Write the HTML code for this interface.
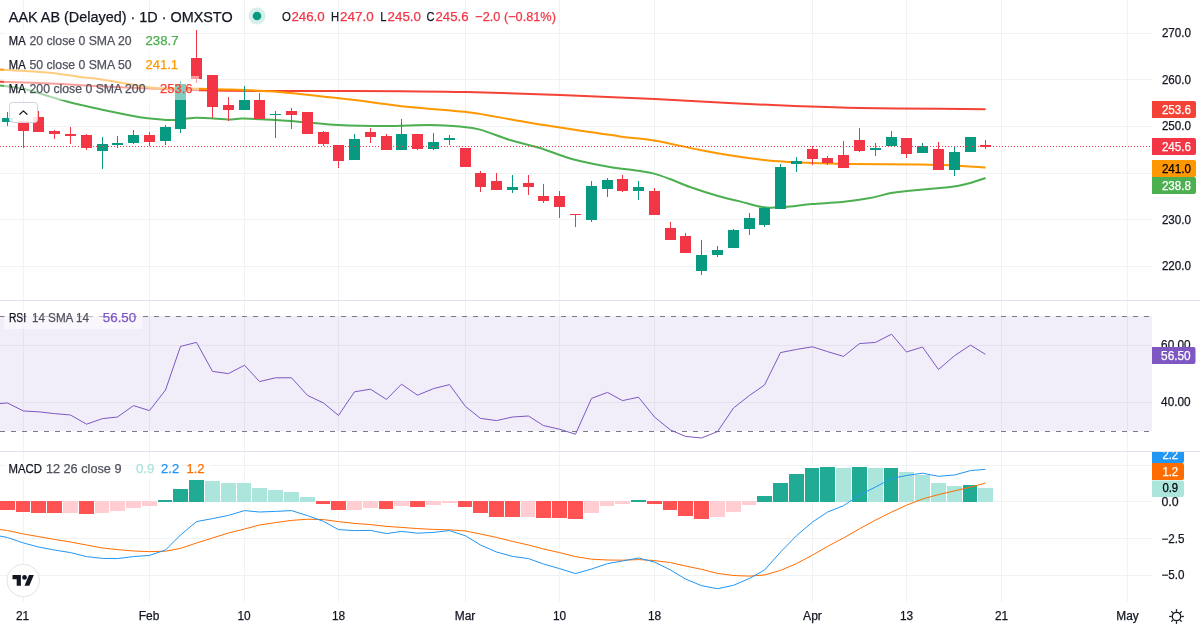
<!DOCTYPE html>
<html><head><meta charset="utf-8"><title>AAK AB chart</title>
<style>html,body{margin:0;padding:0;background:#fff;}body{width:1200px;height:630px;overflow:hidden;position:relative;font-family:"Liberation Sans",sans-serif;}svg{position:absolute;left:0;top:0;display:block;will-change:transform}text{font-family:"Liberation Sans",sans-serif;}</style>
</head><body>
<svg width="1200" height="630" viewBox="0 0 1200 630">
<rect x="0" y="0" width="1200" height="630" fill="#ffffff"/>
<g shape-rendering="crispEdges" fill="#f1f2f3">
<rect x="23" y="0" width="1" height="602"/>
<rect x="149" y="0" width="1" height="602"/>
<rect x="244" y="0" width="1" height="602"/>
<rect x="338" y="0" width="1" height="602"/>
<rect x="465" y="0" width="1" height="602"/>
<rect x="559" y="0" width="1" height="602"/>
<rect x="654" y="0" width="1" height="602"/>
<rect x="812" y="0" width="1" height="602"/>
<rect x="906" y="0" width="1" height="602"/>
<rect x="1001" y="0" width="1" height="602"/>
<rect x="1127" y="0" width="1" height="602"/>
<rect x="0" y="33" width="1152" height="1"/>
<rect x="0" y="79" width="1152" height="1"/>
<rect x="0" y="126" width="1152" height="1"/>
<rect x="0" y="173" width="1152" height="1"/>
<rect x="0" y="219" width="1152" height="1"/>
<rect x="0" y="266" width="1152" height="1"/>
<rect x="0" y="345" width="1152" height="1"/>
<rect x="0" y="402" width="1152" height="1"/>
<rect x="0" y="465" width="1152" height="1"/>
<rect x="0" y="501" width="1152" height="1"/>
<rect x="0" y="538" width="1152" height="1"/>
<rect x="0" y="575" width="1152" height="1"/>
</g>
<rect x="0" y="316" width="1152" height="115" fill="#7E57C2" fill-opacity="0.1" shape-rendering="crispEdges"/>
<g shape-rendering="crispEdges" fill="#787b86">
<rect x="0" y="316" width="5" height="1"/>
<rect x="0" y="431" width="5" height="1"/>
<rect x="11" y="316" width="5" height="1"/>
<rect x="11" y="431" width="5" height="1"/>
<rect x="22" y="316" width="5" height="1"/>
<rect x="22" y="431" width="5" height="1"/>
<rect x="33" y="316" width="5" height="1"/>
<rect x="33" y="431" width="5" height="1"/>
<rect x="44" y="316" width="5" height="1"/>
<rect x="44" y="431" width="5" height="1"/>
<rect x="55" y="316" width="5" height="1"/>
<rect x="55" y="431" width="5" height="1"/>
<rect x="66" y="316" width="5" height="1"/>
<rect x="66" y="431" width="5" height="1"/>
<rect x="77" y="316" width="5" height="1"/>
<rect x="77" y="431" width="5" height="1"/>
<rect x="88" y="316" width="5" height="1"/>
<rect x="88" y="431" width="5" height="1"/>
<rect x="99" y="316" width="5" height="1"/>
<rect x="99" y="431" width="5" height="1"/>
<rect x="110" y="316" width="5" height="1"/>
<rect x="110" y="431" width="5" height="1"/>
<rect x="121" y="316" width="5" height="1"/>
<rect x="121" y="431" width="5" height="1"/>
<rect x="132" y="316" width="5" height="1"/>
<rect x="132" y="431" width="5" height="1"/>
<rect x="143" y="316" width="5" height="1"/>
<rect x="143" y="431" width="5" height="1"/>
<rect x="154" y="316" width="5" height="1"/>
<rect x="154" y="431" width="5" height="1"/>
<rect x="165" y="316" width="5" height="1"/>
<rect x="165" y="431" width="5" height="1"/>
<rect x="176" y="316" width="5" height="1"/>
<rect x="176" y="431" width="5" height="1"/>
<rect x="187" y="316" width="5" height="1"/>
<rect x="187" y="431" width="5" height="1"/>
<rect x="198" y="316" width="5" height="1"/>
<rect x="198" y="431" width="5" height="1"/>
<rect x="209" y="316" width="5" height="1"/>
<rect x="209" y="431" width="5" height="1"/>
<rect x="220" y="316" width="5" height="1"/>
<rect x="220" y="431" width="5" height="1"/>
<rect x="231" y="316" width="5" height="1"/>
<rect x="231" y="431" width="5" height="1"/>
<rect x="242" y="316" width="5" height="1"/>
<rect x="242" y="431" width="5" height="1"/>
<rect x="253" y="316" width="5" height="1"/>
<rect x="253" y="431" width="5" height="1"/>
<rect x="264" y="316" width="5" height="1"/>
<rect x="264" y="431" width="5" height="1"/>
<rect x="275" y="316" width="5" height="1"/>
<rect x="275" y="431" width="5" height="1"/>
<rect x="286" y="316" width="5" height="1"/>
<rect x="286" y="431" width="5" height="1"/>
<rect x="297" y="316" width="5" height="1"/>
<rect x="297" y="431" width="5" height="1"/>
<rect x="308" y="316" width="5" height="1"/>
<rect x="308" y="431" width="5" height="1"/>
<rect x="319" y="316" width="5" height="1"/>
<rect x="319" y="431" width="5" height="1"/>
<rect x="330" y="316" width="5" height="1"/>
<rect x="330" y="431" width="5" height="1"/>
<rect x="341" y="316" width="5" height="1"/>
<rect x="341" y="431" width="5" height="1"/>
<rect x="352" y="316" width="5" height="1"/>
<rect x="352" y="431" width="5" height="1"/>
<rect x="363" y="316" width="5" height="1"/>
<rect x="363" y="431" width="5" height="1"/>
<rect x="374" y="316" width="5" height="1"/>
<rect x="374" y="431" width="5" height="1"/>
<rect x="385" y="316" width="5" height="1"/>
<rect x="385" y="431" width="5" height="1"/>
<rect x="396" y="316" width="5" height="1"/>
<rect x="396" y="431" width="5" height="1"/>
<rect x="407" y="316" width="5" height="1"/>
<rect x="407" y="431" width="5" height="1"/>
<rect x="418" y="316" width="5" height="1"/>
<rect x="418" y="431" width="5" height="1"/>
<rect x="429" y="316" width="5" height="1"/>
<rect x="429" y="431" width="5" height="1"/>
<rect x="440" y="316" width="5" height="1"/>
<rect x="440" y="431" width="5" height="1"/>
<rect x="451" y="316" width="5" height="1"/>
<rect x="451" y="431" width="5" height="1"/>
<rect x="462" y="316" width="5" height="1"/>
<rect x="462" y="431" width="5" height="1"/>
<rect x="473" y="316" width="5" height="1"/>
<rect x="473" y="431" width="5" height="1"/>
<rect x="484" y="316" width="5" height="1"/>
<rect x="484" y="431" width="5" height="1"/>
<rect x="495" y="316" width="5" height="1"/>
<rect x="495" y="431" width="5" height="1"/>
<rect x="506" y="316" width="5" height="1"/>
<rect x="506" y="431" width="5" height="1"/>
<rect x="517" y="316" width="5" height="1"/>
<rect x="517" y="431" width="5" height="1"/>
<rect x="528" y="316" width="5" height="1"/>
<rect x="528" y="431" width="5" height="1"/>
<rect x="539" y="316" width="5" height="1"/>
<rect x="539" y="431" width="5" height="1"/>
<rect x="550" y="316" width="5" height="1"/>
<rect x="550" y="431" width="5" height="1"/>
<rect x="561" y="316" width="5" height="1"/>
<rect x="561" y="431" width="5" height="1"/>
<rect x="572" y="316" width="5" height="1"/>
<rect x="572" y="431" width="5" height="1"/>
<rect x="583" y="316" width="5" height="1"/>
<rect x="583" y="431" width="5" height="1"/>
<rect x="594" y="316" width="5" height="1"/>
<rect x="594" y="431" width="5" height="1"/>
<rect x="605" y="316" width="5" height="1"/>
<rect x="605" y="431" width="5" height="1"/>
<rect x="616" y="316" width="5" height="1"/>
<rect x="616" y="431" width="5" height="1"/>
<rect x="627" y="316" width="5" height="1"/>
<rect x="627" y="431" width="5" height="1"/>
<rect x="638" y="316" width="5" height="1"/>
<rect x="638" y="431" width="5" height="1"/>
<rect x="649" y="316" width="5" height="1"/>
<rect x="649" y="431" width="5" height="1"/>
<rect x="660" y="316" width="5" height="1"/>
<rect x="660" y="431" width="5" height="1"/>
<rect x="671" y="316" width="5" height="1"/>
<rect x="671" y="431" width="5" height="1"/>
<rect x="682" y="316" width="5" height="1"/>
<rect x="682" y="431" width="5" height="1"/>
<rect x="693" y="316" width="5" height="1"/>
<rect x="693" y="431" width="5" height="1"/>
<rect x="704" y="316" width="5" height="1"/>
<rect x="704" y="431" width="5" height="1"/>
<rect x="715" y="316" width="5" height="1"/>
<rect x="715" y="431" width="5" height="1"/>
<rect x="726" y="316" width="5" height="1"/>
<rect x="726" y="431" width="5" height="1"/>
<rect x="737" y="316" width="5" height="1"/>
<rect x="737" y="431" width="5" height="1"/>
<rect x="748" y="316" width="5" height="1"/>
<rect x="748" y="431" width="5" height="1"/>
<rect x="759" y="316" width="5" height="1"/>
<rect x="759" y="431" width="5" height="1"/>
<rect x="770" y="316" width="5" height="1"/>
<rect x="770" y="431" width="5" height="1"/>
<rect x="781" y="316" width="5" height="1"/>
<rect x="781" y="431" width="5" height="1"/>
<rect x="792" y="316" width="5" height="1"/>
<rect x="792" y="431" width="5" height="1"/>
<rect x="803" y="316" width="5" height="1"/>
<rect x="803" y="431" width="5" height="1"/>
<rect x="814" y="316" width="5" height="1"/>
<rect x="814" y="431" width="5" height="1"/>
<rect x="825" y="316" width="5" height="1"/>
<rect x="825" y="431" width="5" height="1"/>
<rect x="836" y="316" width="5" height="1"/>
<rect x="836" y="431" width="5" height="1"/>
<rect x="847" y="316" width="5" height="1"/>
<rect x="847" y="431" width="5" height="1"/>
<rect x="858" y="316" width="5" height="1"/>
<rect x="858" y="431" width="5" height="1"/>
<rect x="869" y="316" width="5" height="1"/>
<rect x="869" y="431" width="5" height="1"/>
<rect x="880" y="316" width="5" height="1"/>
<rect x="880" y="431" width="5" height="1"/>
<rect x="891" y="316" width="5" height="1"/>
<rect x="891" y="431" width="5" height="1"/>
<rect x="902" y="316" width="5" height="1"/>
<rect x="902" y="431" width="5" height="1"/>
<rect x="913" y="316" width="5" height="1"/>
<rect x="913" y="431" width="5" height="1"/>
<rect x="924" y="316" width="5" height="1"/>
<rect x="924" y="431" width="5" height="1"/>
<rect x="935" y="316" width="5" height="1"/>
<rect x="935" y="431" width="5" height="1"/>
<rect x="946" y="316" width="5" height="1"/>
<rect x="946" y="431" width="5" height="1"/>
<rect x="957" y="316" width="5" height="1"/>
<rect x="957" y="431" width="5" height="1"/>
<rect x="968" y="316" width="5" height="1"/>
<rect x="968" y="431" width="5" height="1"/>
<rect x="979" y="316" width="5" height="1"/>
<rect x="979" y="431" width="5" height="1"/>
<rect x="990" y="316" width="5" height="1"/>
<rect x="990" y="431" width="5" height="1"/>
<rect x="1001" y="316" width="5" height="1"/>
<rect x="1001" y="431" width="5" height="1"/>
<rect x="1012" y="316" width="5" height="1"/>
<rect x="1012" y="431" width="5" height="1"/>
<rect x="1023" y="316" width="5" height="1"/>
<rect x="1023" y="431" width="5" height="1"/>
<rect x="1034" y="316" width="5" height="1"/>
<rect x="1034" y="431" width="5" height="1"/>
<rect x="1045" y="316" width="5" height="1"/>
<rect x="1045" y="431" width="5" height="1"/>
<rect x="1056" y="316" width="5" height="1"/>
<rect x="1056" y="431" width="5" height="1"/>
<rect x="1067" y="316" width="5" height="1"/>
<rect x="1067" y="431" width="5" height="1"/>
<rect x="1078" y="316" width="5" height="1"/>
<rect x="1078" y="431" width="5" height="1"/>
<rect x="1089" y="316" width="5" height="1"/>
<rect x="1089" y="431" width="5" height="1"/>
<rect x="1100" y="316" width="5" height="1"/>
<rect x="1100" y="431" width="5" height="1"/>
<rect x="1111" y="316" width="5" height="1"/>
<rect x="1111" y="431" width="5" height="1"/>
<rect x="1122" y="316" width="5" height="1"/>
<rect x="1122" y="431" width="5" height="1"/>
<rect x="1133" y="316" width="5" height="1"/>
<rect x="1133" y="431" width="5" height="1"/>
<rect x="1144" y="316" width="5" height="1"/>
<rect x="1144" y="431" width="5" height="1"/>
</g>
<g shape-rendering="crispEdges" fill="#e0e3eb"><rect x="0" y="300" width="1200" height="1"/><rect x="0" y="451" width="1200" height="1"/></g>
<g shape-rendering="crispEdges">
<rect x="0" y="501" width="15" height="9" fill="#FF5252"/>
<rect x="16" y="501" width="14" height="11" fill="#FF5252"/>
<rect x="31" y="501" width="15" height="12" fill="#FF5252"/>
<rect x="47" y="501" width="15" height="12" fill="#FF5252"/>
<rect x="63" y="501" width="15" height="12" fill="#FFCDD2"/>
<rect x="79" y="501" width="15" height="13" fill="#FF5252"/>
<rect x="95" y="501" width="14" height="12" fill="#FFCDD2"/>
<rect x="110" y="501" width="15" height="10" fill="#FFCDD2"/>
<rect x="126" y="501" width="15" height="7" fill="#FFCDD2"/>
<rect x="142" y="501" width="15" height="5" fill="#FFCDD2"/>
<rect x="158" y="500" width="14" height="2" fill="#22AB94"/>
<rect x="173" y="489" width="15" height="13" fill="#22AB94"/>
<rect x="189" y="480" width="15" height="22" fill="#22AB94"/>
<rect x="205" y="481" width="15" height="21" fill="#ACE5DC"/>
<rect x="221" y="483" width="15" height="19" fill="#ACE5DC"/>
<rect x="237" y="483" width="14" height="19" fill="#ACE5DC"/>
<rect x="252" y="488" width="15" height="14" fill="#ACE5DC"/>
<rect x="268" y="490" width="15" height="12" fill="#ACE5DC"/>
<rect x="284" y="492" width="15" height="10" fill="#ACE5DC"/>
<rect x="300" y="497" width="15" height="5" fill="#ACE5DC"/>
<rect x="316" y="501" width="14" height="3" fill="#FF5252"/>
<rect x="331" y="501" width="15" height="9" fill="#FF5252"/>
<rect x="347" y="501" width="15" height="9" fill="#FFCDD2"/>
<rect x="363" y="501" width="15" height="7" fill="#FFCDD2"/>
<rect x="379" y="501" width="14" height="8" fill="#FF5252"/>
<rect x="394" y="501" width="15" height="5" fill="#FFCDD2"/>
<rect x="410" y="501" width="15" height="6" fill="#FF5252"/>
<rect x="426" y="501" width="15" height="4" fill="#FFCDD2"/>
<rect x="442" y="501" width="15" height="2" fill="#FFCDD2"/>
<rect x="458" y="501" width="14" height="6" fill="#FF5252"/>
<rect x="473" y="501" width="15" height="12" fill="#FF5252"/>
<rect x="489" y="501" width="15" height="16" fill="#FF5252"/>
<rect x="505" y="501" width="15" height="16" fill="#FF5252"/>
<rect x="521" y="501" width="14" height="16" fill="#FFCDD2"/>
<rect x="536" y="501" width="15" height="17" fill="#FF5252"/>
<rect x="552" y="501" width="15" height="17" fill="#FF5252"/>
<rect x="568" y="501" width="15" height="18" fill="#FF5252"/>
<rect x="584" y="501" width="15" height="12" fill="#FFCDD2"/>
<rect x="600" y="501" width="14" height="5" fill="#FFCDD2"/>
<rect x="615" y="501" width="15" height="3" fill="#FFCDD2"/>
<rect x="631" y="500" width="15" height="2" fill="#22AB94"/>
<rect x="647" y="501" width="15" height="3" fill="#FF5252"/>
<rect x="663" y="501" width="14" height="9" fill="#FF5252"/>
<rect x="678" y="501" width="15" height="15" fill="#FF5252"/>
<rect x="694" y="501" width="15" height="18" fill="#FF5252"/>
<rect x="710" y="501" width="15" height="16" fill="#FFCDD2"/>
<rect x="726" y="501" width="15" height="11" fill="#FFCDD2"/>
<rect x="742" y="501" width="14" height="4" fill="#FFCDD2"/>
<rect x="757" y="496" width="15" height="6" fill="#22AB94"/>
<rect x="773" y="483" width="15" height="19" fill="#22AB94"/>
<rect x="789" y="474" width="15" height="28" fill="#22AB94"/>
<rect x="805" y="468" width="14" height="34" fill="#22AB94"/>
<rect x="820" y="467" width="15" height="35" fill="#22AB94"/>
<rect x="836" y="468" width="15" height="34" fill="#ACE5DC"/>
<rect x="852" y="467" width="15" height="35" fill="#22AB94"/>
<rect x="868" y="468" width="15" height="34" fill="#ACE5DC"/>
<rect x="884" y="468" width="14" height="34" fill="#22AB94"/>
<rect x="899" y="472" width="15" height="30" fill="#ACE5DC"/>
<rect x="915" y="475" width="15" height="27" fill="#ACE5DC"/>
<rect x="931" y="483" width="15" height="19" fill="#ACE5DC"/>
<rect x="947" y="486" width="15" height="16" fill="#ACE5DC"/>
<rect x="963" y="485" width="14" height="17" fill="#22AB94"/>
<rect x="978" y="488" width="15" height="14" fill="#ACE5DC"/>
</g>
<polyline points="-8.3,528.5 7.5,530.5 23.5,534.0 38.5,536.6 54.5,539.4 70.5,542.0 86.5,545.0 102.5,548.0 117.5,549.6 133.5,551.0 149.5,551.6 165.5,551.2 180.5,548.4 196.5,543.0 212.5,538.0 228.5,533.0 244.5,529.0 259.5,525.0 275.5,522.6 291.5,520.4 307.5,519.2 323.5,519.6 338.5,521.6 354.5,523.4 370.5,524.6 386.5,526.4 401.5,527.4 417.5,528.6 433.5,529.4 449.5,529.8 465.5,531.0 480.5,534.0 496.5,537.4 512.5,541.4 528.5,545.0 543.5,549.0 559.5,552.6 575.5,556.6 591.5,559.2 607.5,560.0 622.5,560.2 638.5,559.6 654.5,560.6 670.5,562.6 685.5,566.0 701.5,569.3 717.5,573.4 733.5,575.5 749.5,576.1 764.5,575.0 780.5,570.4 796.5,563.6 812.5,555.1 827.5,546.4 843.5,538.0 859.5,528.8 875.5,520.1 891.5,512.1 906.5,505.2 922.5,499.0 938.5,494.6 954.5,490.9 970.5,487.1 985.5,483.1" fill="none" stroke="#FF6D00" stroke-width="1" stroke-linejoin="round" stroke-linecap="butt"/>
<polyline points="-8.3,534.5 7.5,537.5 23.5,543.0 38.5,547.0 54.5,550.0 70.5,552.6 86.5,556.6 102.5,558.4 117.5,558.6 133.5,556.6 149.5,555.4 165.5,550.0 180.5,535.0 196.5,521.6 212.5,518.6 228.5,515.4 244.5,510.6 259.5,512.0 275.5,511.4 291.5,510.6 307.5,515.6 323.5,521.4 338.5,529.6 354.5,530.6 370.5,530.4 386.5,533.6 401.5,531.4 417.5,533.2 433.5,532.4 449.5,530.6 465.5,535.8 480.5,545.0 496.5,552.0 512.5,556.4 528.5,558.6 543.5,564.0 559.5,568.6 575.5,573.6 591.5,569.0 607.5,563.6 622.5,561.0 638.5,558.0 654.5,562.0 670.5,570.0 685.5,579.0 701.5,585.7 717.5,588.7 733.5,585.3 749.5,578.4 764.5,570.0 780.5,552.1 796.5,535.7 812.5,522.0 827.5,512.1 843.5,505.7 859.5,495.0 875.5,487.0 891.5,478.5 906.5,475.5 922.5,473.2 938.5,476.3 954.5,475.0 970.5,470.6 985.5,469.3" fill="none" stroke="#2196F3" stroke-width="1" stroke-linejoin="round" stroke-linecap="butt"/>
<polyline points="-8.3,404.0 7.5,403.0 23.5,411.0 38.5,411.8 54.5,413.6 70.5,415.0 86.5,424.2 102.5,418.6 117.5,417.0 133.5,405.6 149.5,410.6 165.5,390.0 180.5,346.4 196.5,342.4 212.5,371.4 228.5,373.6 244.5,365.2 259.5,381.6 275.5,377.8 291.5,377.8 307.5,395.4 323.5,403.0 338.5,415.4 354.5,391.8 370.5,389.2 386.5,399.4 401.5,384.2 417.5,395.2 433.5,388.6 449.5,384.6 465.5,406.5 480.5,418.4 496.5,420.6 512.5,417.0 528.5,416.0 543.5,425.6 559.5,429.2 575.5,434.2 591.5,398.4 607.5,392.4 622.5,400.6 638.5,397.2 654.5,417.0 670.5,430.0 685.5,436.4 701.5,438.0 717.5,431.6 733.5,408.0 749.5,395.4 764.5,385.0 780.5,352.6 796.5,349.4 812.5,346.8 827.5,351.6 843.5,356.4 859.5,343.6 875.5,342.4 891.5,334.2 906.5,352.0 922.5,347.0 938.5,369.5 954.5,355.7 970.5,345.1 985.5,354.4" fill="none" stroke="#7E57C2" stroke-width="1" stroke-linejoin="round" stroke-linecap="butt"/>
<path d="M0.0,85.4 C4.0,86.0 15.7,87.1 24.0,89.0 C32.3,90.9 42.9,94.5 50.0,96.6 C57.1,98.7 61.2,100.0 66.7,101.5 C72.2,103.0 77.5,104.1 83.0,105.4 C88.5,106.7 94.4,108.1 100.0,109.3 C105.6,110.5 111.2,111.7 116.7,112.8 C122.2,113.9 127.5,115.0 133.0,116.0 C138.6,117.0 144.5,117.9 150.0,118.6 C155.5,119.2 161.7,119.7 166.0,119.9 C170.3,120.1 171.0,120.3 176.0,119.9 C181.0,119.5 187.0,117.8 196.0,117.7 C205.0,117.6 222.0,119.2 230.0,119.4 C238.0,119.6 234.0,118.3 244.0,118.6 C254.0,118.9 274.2,119.9 290.0,121.0 C305.8,122.1 322.6,124.2 338.6,125.0 C354.6,125.8 370.8,126.0 386.0,126.0 C401.2,126.0 417.7,124.9 430.0,125.0 C442.3,125.1 451.7,125.8 460.0,126.6 C468.3,127.4 471.7,127.4 480.0,129.6 C488.3,131.8 500.0,136.9 510.0,140.0 C520.0,143.1 529.7,144.8 540.0,148.0 C550.3,151.2 560.8,155.9 572.0,159.0 C583.2,162.1 595.7,164.4 607.0,166.4 C618.3,168.4 632.2,169.8 640.0,171.0 C647.8,172.2 649.0,172.3 654.0,173.6 C659.0,174.9 664.0,176.8 670.0,179.0 C676.0,181.2 682.0,184.2 690.0,187.0 C698.0,189.8 709.7,193.6 718.0,196.0 C726.3,198.4 732.7,199.6 740.0,201.4 C747.3,203.2 756.3,206.0 762.0,207.0 C767.7,208.0 769.3,207.7 774.0,207.6 C778.7,207.5 783.7,207.2 790.0,206.6 C796.3,206.0 803.3,204.8 812.0,204.0 C820.7,203.2 832.3,203.0 842.0,202.0 C851.7,201.0 861.8,199.5 870.0,198.0 C878.2,196.5 884.8,194.2 891.0,193.0 C897.2,191.8 898.8,191.8 907.0,191.0 C915.2,190.2 932.2,188.7 940.0,188.0 C947.8,187.3 949.0,187.4 954.0,186.6 C959.0,185.8 964.7,184.4 970.0,183.0 C975.3,181.6 983.0,178.8 985.6,178.0" fill="none" stroke="#4CAF50" stroke-width="2" stroke-linecap="butt"/>
<path d="M0.0,81.7 C8.3,82.0 33.3,82.8 50.0,83.5 C66.7,84.2 83.3,85.4 100.0,86.2 C116.7,87.0 133.3,87.9 150.0,88.6 C166.7,89.3 181.0,89.8 200.0,90.2 C219.0,90.6 247.3,90.9 264.0,91.0 C280.7,91.1 277.3,91.0 300.0,91.0 C322.7,91.0 372.2,91.1 400.0,91.3 C427.8,91.5 440.3,91.4 467.0,92.0 C493.7,92.6 528.7,93.8 560.0,95.0 C591.3,96.2 626.2,97.6 655.0,99.0 C683.8,100.4 708.8,102.1 733.0,103.3 C757.2,104.5 778.8,105.4 800.0,106.2 C821.2,107.0 836.7,107.6 860.0,108.0 C883.3,108.4 919.1,108.6 940.0,108.8 C960.9,109.0 978.0,109.1 985.6,109.2" fill="none" stroke="#F44336" stroke-width="2" stroke-linecap="butt"/>
<path d="M0.0,69.5 C8.3,70.0 36.7,71.5 50.0,72.7 C63.3,74.0 71.7,75.9 80.0,77.0 C88.3,78.1 88.3,77.6 100.0,79.3 C111.7,81.0 137.5,85.9 150.0,87.4 C162.5,88.9 166.7,88.2 175.0,88.4 C183.3,88.6 190.8,88.6 200.0,88.8 C209.2,89.0 219.3,89.1 230.0,89.5 C240.7,89.9 254.0,90.4 264.0,91.0 C274.0,91.6 275.7,91.5 290.0,92.9 C304.3,94.3 330.0,97.2 350.0,99.6 C370.0,101.9 390.0,104.9 410.0,107.0 C430.0,109.1 452.7,110.2 470.0,112.4 C487.3,114.6 499.0,117.5 514.0,120.0 C529.0,122.5 542.3,124.9 560.0,127.6 C577.7,130.3 604.3,134.3 620.0,136.4 C635.7,138.5 640.7,138.1 654.0,140.4 C667.3,142.7 687.7,147.6 700.0,150.0 C712.3,152.4 717.3,153.3 728.0,155.0 C738.7,156.7 753.7,158.8 764.0,160.0 C774.3,161.2 782.0,161.5 790.0,162.0 C798.0,162.5 802.0,162.7 812.0,163.0 C822.0,163.3 832.0,163.8 850.0,164.0 C868.0,164.2 903.3,164.2 920.0,164.4 C936.7,164.6 939.1,164.7 950.0,165.2 C960.9,165.7 979.7,167.2 985.6,167.6" fill="none" stroke="#FF9800" stroke-width="2" stroke-linecap="butt"/>
<g shape-rendering="crispEdges">
<rect x="7" y="112" width="1" height="14" fill="#089981"/>
<rect x="2" y="118" width="11" height="4" fill="#089981"/>
<rect x="23" y="120" width="1" height="28" fill="#F23645"/>
<rect x="18" y="121" width="11" height="10" fill="#F23645"/>
<rect x="38" y="111" width="1" height="21" fill="#F23645"/>
<rect x="33" y="117" width="11" height="15" fill="#F23645"/>
<rect x="54" y="130" width="1" height="9" fill="#F23645"/>
<rect x="49" y="131" width="11" height="3" fill="#F23645"/>
<rect x="70" y="127" width="1" height="17" fill="#F23645"/>
<rect x="65" y="134" width="11" height="2" fill="#F23645"/>
<rect x="86" y="134" width="1" height="16" fill="#F23645"/>
<rect x="81" y="135" width="11" height="13" fill="#F23645"/>
<rect x="102" y="137" width="1" height="32" fill="#089981"/>
<rect x="97" y="144" width="11" height="7" fill="#089981"/>
<rect x="117" y="136" width="1" height="12" fill="#089981"/>
<rect x="112" y="143" width="11" height="2" fill="#089981"/>
<rect x="133" y="130" width="1" height="14" fill="#089981"/>
<rect x="128" y="135" width="11" height="8" fill="#089981"/>
<rect x="149" y="132" width="1" height="14" fill="#F23645"/>
<rect x="144" y="135" width="11" height="7" fill="#F23645"/>
<rect x="165" y="125" width="1" height="20" fill="#089981"/>
<rect x="160" y="127" width="11" height="14" fill="#089981"/>
<rect x="180" y="81" width="1" height="52" fill="#089981"/>
<rect x="175" y="84" width="11" height="45" fill="#089981"/>
<rect x="196" y="30" width="1" height="53" fill="#F23645"/>
<rect x="191" y="58" width="11" height="21" fill="#F23645"/>
<rect x="212" y="75" width="1" height="43" fill="#F23645"/>
<rect x="207" y="75" width="11" height="32" fill="#F23645"/>
<rect x="228" y="97" width="1" height="24" fill="#F23645"/>
<rect x="223" y="105" width="11" height="5" fill="#F23645"/>
<rect x="244" y="86" width="1" height="24" fill="#089981"/>
<rect x="239" y="100" width="11" height="10" fill="#089981"/>
<rect x="259" y="93" width="1" height="26" fill="#F23645"/>
<rect x="254" y="100" width="11" height="19" fill="#F23645"/>
<rect x="275" y="111" width="1" height="27" fill="#089981"/>
<rect x="270" y="114" width="11" height="1" fill="#089981"/>
<rect x="291" y="108" width="1" height="21" fill="#F23645"/>
<rect x="286" y="111" width="11" height="4" fill="#F23645"/>
<rect x="307" y="112" width="1" height="22" fill="#F23645"/>
<rect x="302" y="112" width="11" height="22" fill="#F23645"/>
<rect x="323" y="131" width="1" height="15" fill="#F23645"/>
<rect x="318" y="132" width="11" height="12" fill="#F23645"/>
<rect x="338" y="145" width="1" height="23" fill="#F23645"/>
<rect x="333" y="145" width="11" height="16" fill="#F23645"/>
<rect x="354" y="134" width="1" height="26" fill="#089981"/>
<rect x="349" y="139" width="11" height="21" fill="#089981"/>
<rect x="370" y="128" width="1" height="15" fill="#F23645"/>
<rect x="365" y="132" width="11" height="5" fill="#F23645"/>
<rect x="386" y="134" width="1" height="16" fill="#F23645"/>
<rect x="381" y="136" width="11" height="14" fill="#F23645"/>
<rect x="401" y="119" width="1" height="31" fill="#089981"/>
<rect x="396" y="134" width="11" height="16" fill="#089981"/>
<rect x="417" y="134" width="1" height="16" fill="#F23645"/>
<rect x="412" y="134" width="11" height="15" fill="#F23645"/>
<rect x="433" y="133" width="1" height="17" fill="#089981"/>
<rect x="428" y="142" width="11" height="7" fill="#089981"/>
<rect x="449" y="135" width="1" height="10" fill="#089981"/>
<rect x="444" y="138" width="11" height="2" fill="#089981"/>
<rect x="465" y="148" width="1" height="19" fill="#F23645"/>
<rect x="460" y="148" width="11" height="19" fill="#F23645"/>
<rect x="480" y="171" width="1" height="21" fill="#F23645"/>
<rect x="475" y="173" width="11" height="14" fill="#F23645"/>
<rect x="496" y="173" width="1" height="17" fill="#F23645"/>
<rect x="491" y="181" width="11" height="9" fill="#F23645"/>
<rect x="512" y="175" width="1" height="18" fill="#089981"/>
<rect x="507" y="187" width="11" height="3" fill="#089981"/>
<rect x="528" y="175" width="1" height="20" fill="#F23645"/>
<rect x="523" y="183" width="11" height="4" fill="#F23645"/>
<rect x="543" y="184" width="1" height="19" fill="#F23645"/>
<rect x="538" y="196" width="11" height="5" fill="#F23645"/>
<rect x="559" y="191" width="1" height="27" fill="#F23645"/>
<rect x="554" y="196" width="11" height="11" fill="#F23645"/>
<rect x="575" y="214" width="1" height="13" fill="#F23645"/>
<rect x="570" y="214" width="11" height="1" fill="#F23645"/>
<rect x="591" y="181" width="1" height="41" fill="#089981"/>
<rect x="586" y="186" width="11" height="34" fill="#089981"/>
<rect x="607" y="178" width="1" height="19" fill="#089981"/>
<rect x="602" y="180" width="11" height="9" fill="#089981"/>
<rect x="622" y="175" width="1" height="17" fill="#F23645"/>
<rect x="617" y="179" width="11" height="12" fill="#F23645"/>
<rect x="638" y="181" width="1" height="19" fill="#089981"/>
<rect x="633" y="187" width="11" height="4" fill="#089981"/>
<rect x="654" y="188" width="1" height="27" fill="#F23645"/>
<rect x="649" y="191" width="11" height="24" fill="#F23645"/>
<rect x="670" y="222" width="1" height="18" fill="#F23645"/>
<rect x="665" y="228" width="11" height="12" fill="#F23645"/>
<rect x="685" y="233" width="1" height="20" fill="#F23645"/>
<rect x="680" y="236" width="11" height="17" fill="#F23645"/>
<rect x="701" y="240" width="1" height="35" fill="#089981"/>
<rect x="696" y="255" width="11" height="16" fill="#089981"/>
<rect x="717" y="246" width="1" height="11" fill="#089981"/>
<rect x="712" y="250" width="11" height="5" fill="#089981"/>
<rect x="733" y="229" width="1" height="19" fill="#089981"/>
<rect x="728" y="230" width="11" height="18" fill="#089981"/>
<rect x="749" y="213" width="1" height="22" fill="#089981"/>
<rect x="744" y="218" width="11" height="11" fill="#089981"/>
<rect x="764" y="207" width="1" height="20" fill="#089981"/>
<rect x="759" y="208" width="11" height="17" fill="#089981"/>
<rect x="780" y="164" width="1" height="45" fill="#089981"/>
<rect x="775" y="167" width="11" height="42" fill="#089981"/>
<rect x="796" y="157" width="1" height="15" fill="#089981"/>
<rect x="791" y="161" width="11" height="3" fill="#089981"/>
<rect x="812" y="146" width="1" height="19" fill="#F23645"/>
<rect x="807" y="149" width="11" height="10" fill="#F23645"/>
<rect x="827" y="156" width="1" height="9" fill="#F23645"/>
<rect x="822" y="158" width="11" height="5" fill="#F23645"/>
<rect x="843" y="141" width="1" height="27" fill="#F23645"/>
<rect x="838" y="155" width="11" height="13" fill="#F23645"/>
<rect x="859" y="128" width="1" height="24" fill="#F23645"/>
<rect x="854" y="140" width="11" height="11" fill="#F23645"/>
<rect x="875" y="143" width="1" height="13" fill="#089981"/>
<rect x="870" y="148" width="11" height="2" fill="#089981"/>
<rect x="891" y="131" width="1" height="15" fill="#089981"/>
<rect x="886" y="137" width="11" height="9" fill="#089981"/>
<rect x="906" y="138" width="1" height="20" fill="#F23645"/>
<rect x="901" y="138" width="11" height="16" fill="#F23645"/>
<rect x="922" y="143" width="1" height="10" fill="#089981"/>
<rect x="917" y="146" width="11" height="7" fill="#089981"/>
<rect x="938" y="142" width="1" height="28" fill="#F23645"/>
<rect x="933" y="149" width="11" height="21" fill="#F23645"/>
<rect x="954" y="147" width="1" height="29" fill="#089981"/>
<rect x="949" y="152" width="11" height="18" fill="#089981"/>
<rect x="970" y="137" width="1" height="15" fill="#089981"/>
<rect x="965" y="137" width="11" height="15" fill="#089981"/>
<rect x="985" y="140" width="1" height="9" fill="#F23645"/>
<rect x="980" y="145" width="11" height="2" fill="#F23645"/>
</g>
<g shape-rendering="crispEdges" fill="#F23645">
<rect x="0" y="146" width="1" height="1"/>
<rect x="3" y="146" width="1" height="1"/>
<rect x="6" y="146" width="1" height="1"/>
<rect x="9" y="146" width="1" height="1"/>
<rect x="12" y="146" width="1" height="1"/>
<rect x="15" y="146" width="1" height="1"/>
<rect x="18" y="146" width="1" height="1"/>
<rect x="21" y="146" width="1" height="1"/>
<rect x="24" y="146" width="1" height="1"/>
<rect x="27" y="146" width="1" height="1"/>
<rect x="30" y="146" width="1" height="1"/>
<rect x="33" y="146" width="1" height="1"/>
<rect x="36" y="146" width="1" height="1"/>
<rect x="39" y="146" width="1" height="1"/>
<rect x="42" y="146" width="1" height="1"/>
<rect x="45" y="146" width="1" height="1"/>
<rect x="48" y="146" width="1" height="1"/>
<rect x="51" y="146" width="1" height="1"/>
<rect x="54" y="146" width="1" height="1"/>
<rect x="57" y="146" width="1" height="1"/>
<rect x="60" y="146" width="1" height="1"/>
<rect x="63" y="146" width="1" height="1"/>
<rect x="66" y="146" width="1" height="1"/>
<rect x="69" y="146" width="1" height="1"/>
<rect x="72" y="146" width="1" height="1"/>
<rect x="75" y="146" width="1" height="1"/>
<rect x="78" y="146" width="1" height="1"/>
<rect x="81" y="146" width="1" height="1"/>
<rect x="84" y="146" width="1" height="1"/>
<rect x="87" y="146" width="1" height="1"/>
<rect x="90" y="146" width="1" height="1"/>
<rect x="93" y="146" width="1" height="1"/>
<rect x="96" y="146" width="1" height="1"/>
<rect x="99" y="146" width="1" height="1"/>
<rect x="102" y="146" width="1" height="1"/>
<rect x="105" y="146" width="1" height="1"/>
<rect x="108" y="146" width="1" height="1"/>
<rect x="111" y="146" width="1" height="1"/>
<rect x="114" y="146" width="1" height="1"/>
<rect x="117" y="146" width="1" height="1"/>
<rect x="120" y="146" width="1" height="1"/>
<rect x="123" y="146" width="1" height="1"/>
<rect x="126" y="146" width="1" height="1"/>
<rect x="129" y="146" width="1" height="1"/>
<rect x="132" y="146" width="1" height="1"/>
<rect x="135" y="146" width="1" height="1"/>
<rect x="138" y="146" width="1" height="1"/>
<rect x="141" y="146" width="1" height="1"/>
<rect x="144" y="146" width="1" height="1"/>
<rect x="147" y="146" width="1" height="1"/>
<rect x="150" y="146" width="1" height="1"/>
<rect x="153" y="146" width="1" height="1"/>
<rect x="156" y="146" width="1" height="1"/>
<rect x="159" y="146" width="1" height="1"/>
<rect x="162" y="146" width="1" height="1"/>
<rect x="165" y="146" width="1" height="1"/>
<rect x="168" y="146" width="1" height="1"/>
<rect x="171" y="146" width="1" height="1"/>
<rect x="174" y="146" width="1" height="1"/>
<rect x="177" y="146" width="1" height="1"/>
<rect x="180" y="146" width="1" height="1"/>
<rect x="183" y="146" width="1" height="1"/>
<rect x="186" y="146" width="1" height="1"/>
<rect x="189" y="146" width="1" height="1"/>
<rect x="192" y="146" width="1" height="1"/>
<rect x="195" y="146" width="1" height="1"/>
<rect x="198" y="146" width="1" height="1"/>
<rect x="201" y="146" width="1" height="1"/>
<rect x="204" y="146" width="1" height="1"/>
<rect x="207" y="146" width="1" height="1"/>
<rect x="210" y="146" width="1" height="1"/>
<rect x="213" y="146" width="1" height="1"/>
<rect x="216" y="146" width="1" height="1"/>
<rect x="219" y="146" width="1" height="1"/>
<rect x="222" y="146" width="1" height="1"/>
<rect x="225" y="146" width="1" height="1"/>
<rect x="228" y="146" width="1" height="1"/>
<rect x="231" y="146" width="1" height="1"/>
<rect x="234" y="146" width="1" height="1"/>
<rect x="237" y="146" width="1" height="1"/>
<rect x="240" y="146" width="1" height="1"/>
<rect x="243" y="146" width="1" height="1"/>
<rect x="246" y="146" width="1" height="1"/>
<rect x="249" y="146" width="1" height="1"/>
<rect x="252" y="146" width="1" height="1"/>
<rect x="255" y="146" width="1" height="1"/>
<rect x="258" y="146" width="1" height="1"/>
<rect x="261" y="146" width="1" height="1"/>
<rect x="264" y="146" width="1" height="1"/>
<rect x="267" y="146" width="1" height="1"/>
<rect x="270" y="146" width="1" height="1"/>
<rect x="273" y="146" width="1" height="1"/>
<rect x="276" y="146" width="1" height="1"/>
<rect x="279" y="146" width="1" height="1"/>
<rect x="282" y="146" width="1" height="1"/>
<rect x="285" y="146" width="1" height="1"/>
<rect x="288" y="146" width="1" height="1"/>
<rect x="291" y="146" width="1" height="1"/>
<rect x="294" y="146" width="1" height="1"/>
<rect x="297" y="146" width="1" height="1"/>
<rect x="300" y="146" width="1" height="1"/>
<rect x="303" y="146" width="1" height="1"/>
<rect x="306" y="146" width="1" height="1"/>
<rect x="309" y="146" width="1" height="1"/>
<rect x="312" y="146" width="1" height="1"/>
<rect x="315" y="146" width="1" height="1"/>
<rect x="318" y="146" width="1" height="1"/>
<rect x="321" y="146" width="1" height="1"/>
<rect x="324" y="146" width="1" height="1"/>
<rect x="327" y="146" width="1" height="1"/>
<rect x="330" y="146" width="1" height="1"/>
<rect x="333" y="146" width="1" height="1"/>
<rect x="336" y="146" width="1" height="1"/>
<rect x="339" y="146" width="1" height="1"/>
<rect x="342" y="146" width="1" height="1"/>
<rect x="345" y="146" width="1" height="1"/>
<rect x="348" y="146" width="1" height="1"/>
<rect x="351" y="146" width="1" height="1"/>
<rect x="354" y="146" width="1" height="1"/>
<rect x="357" y="146" width="1" height="1"/>
<rect x="360" y="146" width="1" height="1"/>
<rect x="363" y="146" width="1" height="1"/>
<rect x="366" y="146" width="1" height="1"/>
<rect x="369" y="146" width="1" height="1"/>
<rect x="372" y="146" width="1" height="1"/>
<rect x="375" y="146" width="1" height="1"/>
<rect x="378" y="146" width="1" height="1"/>
<rect x="381" y="146" width="1" height="1"/>
<rect x="384" y="146" width="1" height="1"/>
<rect x="387" y="146" width="1" height="1"/>
<rect x="390" y="146" width="1" height="1"/>
<rect x="393" y="146" width="1" height="1"/>
<rect x="396" y="146" width="1" height="1"/>
<rect x="399" y="146" width="1" height="1"/>
<rect x="402" y="146" width="1" height="1"/>
<rect x="405" y="146" width="1" height="1"/>
<rect x="408" y="146" width="1" height="1"/>
<rect x="411" y="146" width="1" height="1"/>
<rect x="414" y="146" width="1" height="1"/>
<rect x="417" y="146" width="1" height="1"/>
<rect x="420" y="146" width="1" height="1"/>
<rect x="423" y="146" width="1" height="1"/>
<rect x="426" y="146" width="1" height="1"/>
<rect x="429" y="146" width="1" height="1"/>
<rect x="432" y="146" width="1" height="1"/>
<rect x="435" y="146" width="1" height="1"/>
<rect x="438" y="146" width="1" height="1"/>
<rect x="441" y="146" width="1" height="1"/>
<rect x="444" y="146" width="1" height="1"/>
<rect x="447" y="146" width="1" height="1"/>
<rect x="450" y="146" width="1" height="1"/>
<rect x="453" y="146" width="1" height="1"/>
<rect x="456" y="146" width="1" height="1"/>
<rect x="459" y="146" width="1" height="1"/>
<rect x="462" y="146" width="1" height="1"/>
<rect x="465" y="146" width="1" height="1"/>
<rect x="468" y="146" width="1" height="1"/>
<rect x="471" y="146" width="1" height="1"/>
<rect x="474" y="146" width="1" height="1"/>
<rect x="477" y="146" width="1" height="1"/>
<rect x="480" y="146" width="1" height="1"/>
<rect x="483" y="146" width="1" height="1"/>
<rect x="486" y="146" width="1" height="1"/>
<rect x="489" y="146" width="1" height="1"/>
<rect x="492" y="146" width="1" height="1"/>
<rect x="495" y="146" width="1" height="1"/>
<rect x="498" y="146" width="1" height="1"/>
<rect x="501" y="146" width="1" height="1"/>
<rect x="504" y="146" width="1" height="1"/>
<rect x="507" y="146" width="1" height="1"/>
<rect x="510" y="146" width="1" height="1"/>
<rect x="513" y="146" width="1" height="1"/>
<rect x="516" y="146" width="1" height="1"/>
<rect x="519" y="146" width="1" height="1"/>
<rect x="522" y="146" width="1" height="1"/>
<rect x="525" y="146" width="1" height="1"/>
<rect x="528" y="146" width="1" height="1"/>
<rect x="531" y="146" width="1" height="1"/>
<rect x="534" y="146" width="1" height="1"/>
<rect x="537" y="146" width="1" height="1"/>
<rect x="540" y="146" width="1" height="1"/>
<rect x="543" y="146" width="1" height="1"/>
<rect x="546" y="146" width="1" height="1"/>
<rect x="549" y="146" width="1" height="1"/>
<rect x="552" y="146" width="1" height="1"/>
<rect x="555" y="146" width="1" height="1"/>
<rect x="558" y="146" width="1" height="1"/>
<rect x="561" y="146" width="1" height="1"/>
<rect x="564" y="146" width="1" height="1"/>
<rect x="567" y="146" width="1" height="1"/>
<rect x="570" y="146" width="1" height="1"/>
<rect x="573" y="146" width="1" height="1"/>
<rect x="576" y="146" width="1" height="1"/>
<rect x="579" y="146" width="1" height="1"/>
<rect x="582" y="146" width="1" height="1"/>
<rect x="585" y="146" width="1" height="1"/>
<rect x="588" y="146" width="1" height="1"/>
<rect x="591" y="146" width="1" height="1"/>
<rect x="594" y="146" width="1" height="1"/>
<rect x="597" y="146" width="1" height="1"/>
<rect x="600" y="146" width="1" height="1"/>
<rect x="603" y="146" width="1" height="1"/>
<rect x="606" y="146" width="1" height="1"/>
<rect x="609" y="146" width="1" height="1"/>
<rect x="612" y="146" width="1" height="1"/>
<rect x="615" y="146" width="1" height="1"/>
<rect x="618" y="146" width="1" height="1"/>
<rect x="621" y="146" width="1" height="1"/>
<rect x="624" y="146" width="1" height="1"/>
<rect x="627" y="146" width="1" height="1"/>
<rect x="630" y="146" width="1" height="1"/>
<rect x="633" y="146" width="1" height="1"/>
<rect x="636" y="146" width="1" height="1"/>
<rect x="639" y="146" width="1" height="1"/>
<rect x="642" y="146" width="1" height="1"/>
<rect x="645" y="146" width="1" height="1"/>
<rect x="648" y="146" width="1" height="1"/>
<rect x="651" y="146" width="1" height="1"/>
<rect x="654" y="146" width="1" height="1"/>
<rect x="657" y="146" width="1" height="1"/>
<rect x="660" y="146" width="1" height="1"/>
<rect x="663" y="146" width="1" height="1"/>
<rect x="666" y="146" width="1" height="1"/>
<rect x="669" y="146" width="1" height="1"/>
<rect x="672" y="146" width="1" height="1"/>
<rect x="675" y="146" width="1" height="1"/>
<rect x="678" y="146" width="1" height="1"/>
<rect x="681" y="146" width="1" height="1"/>
<rect x="684" y="146" width="1" height="1"/>
<rect x="687" y="146" width="1" height="1"/>
<rect x="690" y="146" width="1" height="1"/>
<rect x="693" y="146" width="1" height="1"/>
<rect x="696" y="146" width="1" height="1"/>
<rect x="699" y="146" width="1" height="1"/>
<rect x="702" y="146" width="1" height="1"/>
<rect x="705" y="146" width="1" height="1"/>
<rect x="708" y="146" width="1" height="1"/>
<rect x="711" y="146" width="1" height="1"/>
<rect x="714" y="146" width="1" height="1"/>
<rect x="717" y="146" width="1" height="1"/>
<rect x="720" y="146" width="1" height="1"/>
<rect x="723" y="146" width="1" height="1"/>
<rect x="726" y="146" width="1" height="1"/>
<rect x="729" y="146" width="1" height="1"/>
<rect x="732" y="146" width="1" height="1"/>
<rect x="735" y="146" width="1" height="1"/>
<rect x="738" y="146" width="1" height="1"/>
<rect x="741" y="146" width="1" height="1"/>
<rect x="744" y="146" width="1" height="1"/>
<rect x="747" y="146" width="1" height="1"/>
<rect x="750" y="146" width="1" height="1"/>
<rect x="753" y="146" width="1" height="1"/>
<rect x="756" y="146" width="1" height="1"/>
<rect x="759" y="146" width="1" height="1"/>
<rect x="762" y="146" width="1" height="1"/>
<rect x="765" y="146" width="1" height="1"/>
<rect x="768" y="146" width="1" height="1"/>
<rect x="771" y="146" width="1" height="1"/>
<rect x="774" y="146" width="1" height="1"/>
<rect x="777" y="146" width="1" height="1"/>
<rect x="780" y="146" width="1" height="1"/>
<rect x="783" y="146" width="1" height="1"/>
<rect x="786" y="146" width="1" height="1"/>
<rect x="789" y="146" width="1" height="1"/>
<rect x="792" y="146" width="1" height="1"/>
<rect x="795" y="146" width="1" height="1"/>
<rect x="798" y="146" width="1" height="1"/>
<rect x="801" y="146" width="1" height="1"/>
<rect x="804" y="146" width="1" height="1"/>
<rect x="807" y="146" width="1" height="1"/>
<rect x="810" y="146" width="1" height="1"/>
<rect x="813" y="146" width="1" height="1"/>
<rect x="816" y="146" width="1" height="1"/>
<rect x="819" y="146" width="1" height="1"/>
<rect x="822" y="146" width="1" height="1"/>
<rect x="825" y="146" width="1" height="1"/>
<rect x="828" y="146" width="1" height="1"/>
<rect x="831" y="146" width="1" height="1"/>
<rect x="834" y="146" width="1" height="1"/>
<rect x="837" y="146" width="1" height="1"/>
<rect x="840" y="146" width="1" height="1"/>
<rect x="843" y="146" width="1" height="1"/>
<rect x="846" y="146" width="1" height="1"/>
<rect x="849" y="146" width="1" height="1"/>
<rect x="852" y="146" width="1" height="1"/>
<rect x="855" y="146" width="1" height="1"/>
<rect x="858" y="146" width="1" height="1"/>
<rect x="861" y="146" width="1" height="1"/>
<rect x="864" y="146" width="1" height="1"/>
<rect x="867" y="146" width="1" height="1"/>
<rect x="870" y="146" width="1" height="1"/>
<rect x="873" y="146" width="1" height="1"/>
<rect x="876" y="146" width="1" height="1"/>
<rect x="879" y="146" width="1" height="1"/>
<rect x="882" y="146" width="1" height="1"/>
<rect x="885" y="146" width="1" height="1"/>
<rect x="888" y="146" width="1" height="1"/>
<rect x="891" y="146" width="1" height="1"/>
<rect x="894" y="146" width="1" height="1"/>
<rect x="897" y="146" width="1" height="1"/>
<rect x="900" y="146" width="1" height="1"/>
<rect x="903" y="146" width="1" height="1"/>
<rect x="906" y="146" width="1" height="1"/>
<rect x="909" y="146" width="1" height="1"/>
<rect x="912" y="146" width="1" height="1"/>
<rect x="915" y="146" width="1" height="1"/>
<rect x="918" y="146" width="1" height="1"/>
<rect x="921" y="146" width="1" height="1"/>
<rect x="924" y="146" width="1" height="1"/>
<rect x="927" y="146" width="1" height="1"/>
<rect x="930" y="146" width="1" height="1"/>
<rect x="933" y="146" width="1" height="1"/>
<rect x="936" y="146" width="1" height="1"/>
<rect x="939" y="146" width="1" height="1"/>
<rect x="942" y="146" width="1" height="1"/>
<rect x="945" y="146" width="1" height="1"/>
<rect x="948" y="146" width="1" height="1"/>
<rect x="951" y="146" width="1" height="1"/>
<rect x="954" y="146" width="1" height="1"/>
<rect x="957" y="146" width="1" height="1"/>
<rect x="960" y="146" width="1" height="1"/>
<rect x="963" y="146" width="1" height="1"/>
<rect x="966" y="146" width="1" height="1"/>
<rect x="969" y="146" width="1" height="1"/>
<rect x="972" y="146" width="1" height="1"/>
<rect x="975" y="146" width="1" height="1"/>
<rect x="978" y="146" width="1" height="1"/>
<rect x="981" y="146" width="1" height="1"/>
<rect x="984" y="146" width="1" height="1"/>
<rect x="987" y="146" width="1" height="1"/>
<rect x="990" y="146" width="1" height="1"/>
<rect x="993" y="146" width="1" height="1"/>
<rect x="996" y="146" width="1" height="1"/>
<rect x="999" y="146" width="1" height="1"/>
<rect x="1002" y="146" width="1" height="1"/>
<rect x="1005" y="146" width="1" height="1"/>
<rect x="1008" y="146" width="1" height="1"/>
<rect x="1011" y="146" width="1" height="1"/>
<rect x="1014" y="146" width="1" height="1"/>
<rect x="1017" y="146" width="1" height="1"/>
<rect x="1020" y="146" width="1" height="1"/>
<rect x="1023" y="146" width="1" height="1"/>
<rect x="1026" y="146" width="1" height="1"/>
<rect x="1029" y="146" width="1" height="1"/>
<rect x="1032" y="146" width="1" height="1"/>
<rect x="1035" y="146" width="1" height="1"/>
<rect x="1038" y="146" width="1" height="1"/>
<rect x="1041" y="146" width="1" height="1"/>
<rect x="1044" y="146" width="1" height="1"/>
<rect x="1047" y="146" width="1" height="1"/>
<rect x="1050" y="146" width="1" height="1"/>
<rect x="1053" y="146" width="1" height="1"/>
<rect x="1056" y="146" width="1" height="1"/>
<rect x="1059" y="146" width="1" height="1"/>
<rect x="1062" y="146" width="1" height="1"/>
<rect x="1065" y="146" width="1" height="1"/>
<rect x="1068" y="146" width="1" height="1"/>
<rect x="1071" y="146" width="1" height="1"/>
<rect x="1074" y="146" width="1" height="1"/>
<rect x="1077" y="146" width="1" height="1"/>
<rect x="1080" y="146" width="1" height="1"/>
<rect x="1083" y="146" width="1" height="1"/>
<rect x="1086" y="146" width="1" height="1"/>
<rect x="1089" y="146" width="1" height="1"/>
<rect x="1092" y="146" width="1" height="1"/>
<rect x="1095" y="146" width="1" height="1"/>
<rect x="1098" y="146" width="1" height="1"/>
<rect x="1101" y="146" width="1" height="1"/>
<rect x="1104" y="146" width="1" height="1"/>
<rect x="1107" y="146" width="1" height="1"/>
<rect x="1110" y="146" width="1" height="1"/>
<rect x="1113" y="146" width="1" height="1"/>
<rect x="1116" y="146" width="1" height="1"/>
<rect x="1119" y="146" width="1" height="1"/>
<rect x="1122" y="146" width="1" height="1"/>
<rect x="1125" y="146" width="1" height="1"/>
<rect x="1128" y="146" width="1" height="1"/>
<rect x="1131" y="146" width="1" height="1"/>
<rect x="1134" y="146" width="1" height="1"/>
<rect x="1137" y="146" width="1" height="1"/>
<rect x="1140" y="146" width="1" height="1"/>
<rect x="1143" y="146" width="1" height="1"/>
<rect x="1146" y="146" width="1" height="1"/>
<rect x="1149" y="146" width="1" height="1"/>
</g>
<g fill="#ffffff" fill-opacity="0.5" shape-rendering="crispEdges">
<rect x="4" y="28" width="181" height="24"/>
<rect x="4" y="52" width="181" height="24"/>
<rect x="4" y="76" width="195" height="24"/>
<rect x="4" y="310" width="138" height="19"/>
<rect x="4" y="461" width="207" height="19"/>
</g>
<rect x="9.5" y="102.5" width="28" height="20" rx="3" fill="#ffffff" fill-opacity="0.85" stroke="#d1d4dc" stroke-width="1"/>
<path d="M19.8,114.3 L23.4,110.9 L27.0,114.3" fill="none" stroke="#131722" stroke-width="1.2" stroke-linecap="round" stroke-linejoin="round"/>
<text x="8.8" y="22.0" font-size="14" fill="#131722" stroke="#131722" stroke-width="0.25" text-anchor="start" font-weight="normal" textLength="223.8" lengthAdjust="spacingAndGlyphs">AAK AB (Delayed) · 1D · OMXSTO</text>
<circle cx="257" cy="16" r="8.5" fill="#089981" fill-opacity="0.16"/>
<circle cx="257" cy="16" r="4.3" fill="#089981"/>
<text x="282.0" y="21.3" font-size="13" fill="#131722" stroke="#131722" stroke-width="0.25" text-anchor="start" font-weight="normal" textLength="8.9" lengthAdjust="spacingAndGlyphs">O</text>
<text x="291.4" y="21.3" font-size="13" fill="#F23645" stroke="#F23645" stroke-width="0.25" text-anchor="start" font-weight="normal" textLength="33.3" lengthAdjust="spacingAndGlyphs">246.0</text>
<text x="331.0" y="21.3" font-size="13" fill="#131722" stroke="#131722" stroke-width="0.25" text-anchor="start" font-weight="normal" textLength="8.1" lengthAdjust="spacingAndGlyphs">H</text>
<text x="340.1" y="21.3" font-size="13" fill="#F23645" stroke="#F23645" stroke-width="0.25" text-anchor="start" font-weight="normal" textLength="33.6" lengthAdjust="spacingAndGlyphs">247.0</text>
<text x="380.3" y="21.3" font-size="13" fill="#131722" stroke="#131722" stroke-width="0.25" text-anchor="start" font-weight="normal" textLength="6.2" lengthAdjust="spacingAndGlyphs">L</text>
<text x="387.5" y="21.3" font-size="13" fill="#F23645" stroke="#F23645" stroke-width="0.25" text-anchor="start" font-weight="normal" textLength="33.5" lengthAdjust="spacingAndGlyphs">245.0</text>
<text x="426.5" y="21.3" font-size="13" fill="#131722" stroke="#131722" stroke-width="0.25" text-anchor="start" font-weight="normal" textLength="8.0" lengthAdjust="spacingAndGlyphs">C</text>
<text x="435.5" y="21.3" font-size="13" fill="#F23645" stroke="#F23645" stroke-width="0.25" text-anchor="start" font-weight="normal" textLength="33.0" lengthAdjust="spacingAndGlyphs">245.6</text>
<text x="475.3" y="21.3" font-size="13" fill="#F23645" stroke="#F23645" stroke-width="0.25" text-anchor="start" font-weight="normal" textLength="80.6" lengthAdjust="spacingAndGlyphs">−2.0 (−0.81%)</text>
<text x="8.8" y="45.0" font-size="12" fill="#131722" stroke="#131722" stroke-width="0.25" text-anchor="start" font-weight="normal" textLength="16.8" lengthAdjust="spacingAndGlyphs">MA</text>
<text x="29.5" y="45.0" font-size="12" fill="#50535e" stroke="#50535e" stroke-width="0.25" text-anchor="start" font-weight="normal" textLength="102.0" lengthAdjust="spacingAndGlyphs">20 close 0 SMA 20</text>
<text x="145.5" y="45.0" font-size="12" fill="#4CAF50" stroke="#4CAF50" stroke-width="0.25" text-anchor="start" font-weight="normal" textLength="33.0" lengthAdjust="spacingAndGlyphs">238.7</text>
<text x="8.8" y="68.8" font-size="12" fill="#131722" stroke="#131722" stroke-width="0.25" text-anchor="start" font-weight="normal" textLength="16.8" lengthAdjust="spacingAndGlyphs">MA</text>
<text x="29.5" y="68.8" font-size="12" fill="#50535e" stroke="#50535e" stroke-width="0.25" text-anchor="start" font-weight="normal" textLength="102.0" lengthAdjust="spacingAndGlyphs">50 close 0 SMA 50</text>
<text x="145.6" y="68.8" font-size="12" fill="#FF9800" stroke="#FF9800" stroke-width="0.25" text-anchor="start" font-weight="normal" textLength="32.5" lengthAdjust="spacingAndGlyphs">241.1</text>
<text x="8.8" y="92.6" font-size="12" fill="#131722" stroke="#131722" stroke-width="0.25" text-anchor="start" font-weight="normal" textLength="16.8" lengthAdjust="spacingAndGlyphs">MA</text>
<text x="29.5" y="92.6" font-size="12" fill="#50535e" stroke="#50535e" stroke-width="0.25" text-anchor="start" font-weight="normal" textLength="116.0" lengthAdjust="spacingAndGlyphs">200 close 0 SMA 200</text>
<text x="160.0" y="92.6" font-size="12" fill="#F44336" stroke="#F44336" stroke-width="0.25" text-anchor="start" font-weight="normal" textLength="32.6" lengthAdjust="spacingAndGlyphs">253.6</text>
<text x="8.9" y="321.8" font-size="12" fill="#131722" stroke="#131722" stroke-width="0.25" text-anchor="start" font-weight="normal" textLength="17.2" lengthAdjust="spacingAndGlyphs">RSI</text>
<text x="31.9" y="321.8" font-size="12" fill="#50535e" stroke="#50535e" stroke-width="0.25" text-anchor="start" font-weight="normal" textLength="57.1" lengthAdjust="spacingAndGlyphs">14 SMA 14</text>
<text x="102.8" y="321.8" font-size="12" fill="#7E57C2" stroke="#7E57C2" stroke-width="0.25" text-anchor="start" font-weight="normal" textLength="33.4" lengthAdjust="spacingAndGlyphs">56.50</text>
<text x="8.5" y="472.6" font-size="12" fill="#131722" stroke="#131722" stroke-width="0.25" text-anchor="start" font-weight="normal" textLength="33.4" lengthAdjust="spacingAndGlyphs">MACD</text>
<text x="45.9" y="472.6" font-size="12" fill="#50535e" stroke="#50535e" stroke-width="0.25" text-anchor="start" font-weight="normal" textLength="75.6" lengthAdjust="spacingAndGlyphs">12 26 close 9</text>
<text x="135.9" y="472.6" font-size="12" fill="#ACE5DC" stroke="#ACE5DC" stroke-width="0.25" text-anchor="start" font-weight="normal" textLength="18.6" lengthAdjust="spacingAndGlyphs">0.9</text>
<text x="161.1" y="472.6" font-size="12" fill="#2196F3" stroke="#2196F3" stroke-width="0.25" text-anchor="start" font-weight="normal" textLength="18.0" lengthAdjust="spacingAndGlyphs">2.2</text>
<text x="186.5" y="472.6" font-size="12" fill="#FF6D00" stroke="#FF6D00" stroke-width="0.25" text-anchor="start" font-weight="normal" textLength="18.0" lengthAdjust="spacingAndGlyphs">1.2</text>
<text x="1161.9" y="37.2" font-size="12" fill="#131722" stroke="#131722" stroke-width="0.25" text-anchor="start" font-weight="normal" textLength="29.1" lengthAdjust="spacingAndGlyphs">270.0</text>
<text x="1161.9" y="84.0" font-size="12" fill="#131722" stroke="#131722" stroke-width="0.25" text-anchor="start" font-weight="normal" textLength="29.1" lengthAdjust="spacingAndGlyphs">260.0</text>
<text x="1161.9" y="130.2" font-size="12" fill="#131722" stroke="#131722" stroke-width="0.25" text-anchor="start" font-weight="normal" textLength="29.1" lengthAdjust="spacingAndGlyphs">250.0</text>
<text x="1161.9" y="224.0" font-size="12" fill="#131722" stroke="#131722" stroke-width="0.25" text-anchor="start" font-weight="normal" textLength="29.1" lengthAdjust="spacingAndGlyphs">230.0</text>
<text x="1161.9" y="270.2" font-size="12" fill="#131722" stroke="#131722" stroke-width="0.25" text-anchor="start" font-weight="normal" textLength="29.1" lengthAdjust="spacingAndGlyphs">220.0</text>
<g><path d="M1152,101 H1194 Q1196,101 1196,103 V116 Q1196,118 1194,118 H1152 Z" fill="#F44336"/>
<text x="1161.9" y="114.2" font-size="12" fill="#ffffff" stroke="#ffffff" stroke-width="0.25" text-anchor="start" font-weight="normal" textLength="29.1" lengthAdjust="spacingAndGlyphs">253.6</text>
</g>
<g><path d="M1152,138 H1194 Q1196,138 1196,140 V153 Q1196,155 1194,155 H1152 Z" fill="#F23645"/>
<text x="1161.9" y="151.2" font-size="12" fill="#ffffff" stroke="#ffffff" stroke-width="0.25" text-anchor="start" font-weight="normal" textLength="29.1" lengthAdjust="spacingAndGlyphs">245.6</text>
</g>
<g><path d="M1152,160 H1194 Q1196,160 1196,162 V175 Q1196,177 1194,177 H1152 Z" fill="#FF9800"/>
<text x="1161.9" y="173.2" font-size="12" fill="#000000" stroke="#000000" stroke-width="0.25" text-anchor="start" font-weight="normal" textLength="29.1" lengthAdjust="spacingAndGlyphs">241.0</text>
</g>
<g><path d="M1152,177 H1194 Q1196,177 1196,179 V192 Q1196,194 1194,194 H1152 Z" fill="#4CAF50"/>
<text x="1161.9" y="190.2" font-size="12" fill="#ffffff" stroke="#ffffff" stroke-width="0.25" text-anchor="start" font-weight="normal" textLength="29.1" lengthAdjust="spacingAndGlyphs">238.8</text>
</g>
<text x="1161.1" y="349.0" font-size="12" fill="#131722" stroke="#131722" stroke-width="0.25" text-anchor="start" font-weight="normal" textLength="29.6" lengthAdjust="spacingAndGlyphs">60.00</text>
<text x="1161.1" y="406.0" font-size="12" fill="#131722" stroke="#131722" stroke-width="0.25" text-anchor="start" font-weight="normal" textLength="29.6" lengthAdjust="spacingAndGlyphs">40.00</text>
<g><path d="M1152,347 H1193.5 Q1195.5,347 1195.5,349 V362 Q1195.5,364 1193.5,364 H1152 Z" fill="#7E57C2"/>
<text x="1161.1" y="360.2" font-size="12" fill="#ffffff" stroke="#ffffff" stroke-width="0.25" text-anchor="start" font-weight="normal" textLength="29.6" lengthAdjust="spacingAndGlyphs">56.50</text>
</g>
<text x="1161.4" y="505.6" font-size="12" fill="#131722" stroke="#131722" stroke-width="0.25" text-anchor="start" font-weight="normal" textLength="17.2" lengthAdjust="spacingAndGlyphs">0.0</text>
<text x="1161.5" y="543.3" font-size="12" fill="#131722" stroke="#131722" stroke-width="0.25" text-anchor="start" font-weight="normal" textLength="23.0" lengthAdjust="spacingAndGlyphs">−2.5</text>
<text x="1161.5" y="579.3" font-size="12" fill="#131722" stroke="#131722" stroke-width="0.25" text-anchor="start" font-weight="normal" textLength="23.0" lengthAdjust="spacingAndGlyphs">−5.0</text>
<clipPath id="cpm"><rect x="1152" y="452" width="48" height="150"/></clipPath>
<g clip-path="url(#cpm)"><path d="M1152,446 H1182 Q1184,446 1184,448 V461 Q1184,463 1182,463 H1152 Z" fill="#2196F3"/>
<text x="1162.4" y="458.8" font-size="12" fill="#ffffff" stroke="#ffffff" stroke-width="0.25" text-anchor="start" font-weight="normal" textLength="15.8" lengthAdjust="spacingAndGlyphs">2.2</text>
</g>
<g><path d="M1152,463 H1182 Q1184,463 1184,465 V478 Q1184,480 1182,480 H1152 Z" fill="#FF6D00"/>
<text x="1162.4" y="475.7" font-size="12" fill="#ffffff" stroke="#ffffff" stroke-width="0.25" text-anchor="start" font-weight="normal" textLength="15.8" lengthAdjust="spacingAndGlyphs">1.2</text>
</g>
<g><path d="M1152,480.4 H1182 Q1184,480.4 1184,482.4 V495 Q1184,497 1182,497 H1152 Z" fill="#ACE5DC"/>
<text x="1162.4" y="492.2" font-size="12" fill="#000000" stroke="#000000" stroke-width="0.25" text-anchor="start" font-weight="normal" textLength="15.8" lengthAdjust="spacingAndGlyphs">0.9</text>
</g>
<text x="15.9" y="620.0" font-size="12" fill="#131722" stroke="#131722" stroke-width="0.25" text-anchor="start" font-weight="normal" textLength="13.2" lengthAdjust="spacingAndGlyphs">21</text>
<text x="138.7" y="620.0" font-size="12" fill="#131722" stroke="#131722" stroke-width="0.25" text-anchor="start" font-weight="normal" textLength="20.6" lengthAdjust="spacingAndGlyphs">Feb</text>
<text x="237.4" y="620.0" font-size="12" fill="#131722" stroke="#131722" stroke-width="0.25" text-anchor="start" font-weight="normal" textLength="13.2" lengthAdjust="spacingAndGlyphs">10</text>
<text x="331.9" y="620.0" font-size="12" fill="#131722" stroke="#131722" stroke-width="0.25" text-anchor="start" font-weight="normal" textLength="13.2" lengthAdjust="spacingAndGlyphs">18</text>
<text x="454.7" y="620.0" font-size="12" fill="#131722" stroke="#131722" stroke-width="0.25" text-anchor="start" font-weight="normal" textLength="20.6" lengthAdjust="spacingAndGlyphs">Mar</text>
<text x="552.9" y="620.0" font-size="12" fill="#131722" stroke="#131722" stroke-width="0.25" text-anchor="start" font-weight="normal" textLength="13.2" lengthAdjust="spacingAndGlyphs">10</text>
<text x="647.9" y="620.0" font-size="12" fill="#131722" stroke="#131722" stroke-width="0.25" text-anchor="start" font-weight="normal" textLength="13.2" lengthAdjust="spacingAndGlyphs">18</text>
<text x="803.1" y="620.0" font-size="12" fill="#131722" stroke="#131722" stroke-width="0.25" text-anchor="start" font-weight="normal" textLength="18.8" lengthAdjust="spacingAndGlyphs">Apr</text>
<text x="899.9" y="620.0" font-size="12" fill="#131722" stroke="#131722" stroke-width="0.25" text-anchor="start" font-weight="normal" textLength="13.2" lengthAdjust="spacingAndGlyphs">13</text>
<text x="994.9" y="620.0" font-size="12" fill="#131722" stroke="#131722" stroke-width="0.25" text-anchor="start" font-weight="normal" textLength="13.2" lengthAdjust="spacingAndGlyphs">21</text>
<text x="1116.3" y="620.0" font-size="12" fill="#131722" stroke="#131722" stroke-width="0.25" text-anchor="start" font-weight="normal" textLength="22.4" lengthAdjust="spacingAndGlyphs">May</text>
<circle cx="23.25" cy="580.5" r="16.3" fill="#ffffff" stroke="#e0e3eb" stroke-width="1"/>
<g transform="translate(12.5,572.6) scale(0.6)" fill="#131722"><path d="M14 22H7V11H0V4h14v18z"/><circle cx="20" cy="8" r="4"/><path d="M28 22h-8l7.5-18h8L28 22z"/></g>
<g stroke="#131722" stroke-width="1.3" fill="none" stroke-linecap="butt"><circle cx="1176.5" cy="616.5" r="4.2"/>
<line x1="1181.30" y1="616.50" x2="1183.80" y2="616.50"/>
<line x1="1179.89" y1="619.89" x2="1181.66" y2="621.66"/>
<line x1="1176.50" y1="621.30" x2="1176.50" y2="623.80"/>
<line x1="1173.11" y1="619.89" x2="1171.34" y2="621.66"/>
<line x1="1171.70" y1="616.50" x2="1169.20" y2="616.50"/>
<line x1="1173.11" y1="613.11" x2="1171.34" y2="611.34"/>
<line x1="1176.50" y1="611.70" x2="1176.50" y2="609.20"/>
<line x1="1179.89" y1="613.11" x2="1181.66" y2="611.34"/>
</g>
</svg></body></html>
